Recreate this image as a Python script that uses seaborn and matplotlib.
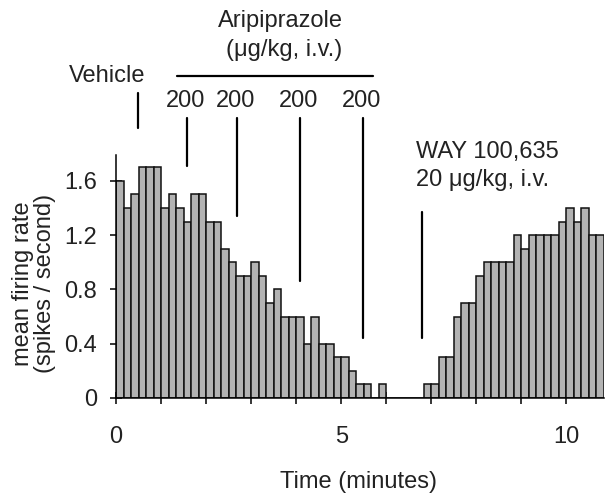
import numpy as np
import pandas as pd
import seaborn as sns
import matplotlib.pyplot as plt

# firing rate in 10 s bins (spikes / second)
bin_minutes = 1 / 6
firing_rate = [
    1.6, 1.4, 1.5, 1.7, 1.7, 1.7, 1.4, 1.5, 1.4, 1.3,
    1.5, 1.5, 1.3, 1.3, 1.1, 1.0, 0.9, 0.9, 1.0, 0.9,
    0.7, 0.8, 0.6, 0.6, 0.6, 0.4, 0.6, 0.4, 0.4, 0.3,
    0.3, 0.2, 0.1, 0.1, 0.0, 0.1, 0.0, 0.0, 0.0, 0.0,
    0.0, 0.1, 0.1, 0.3, 0.3, 0.6, 0.7, 0.7, 0.9, 1.0,
    1.0, 1.0, 1.0, 1.2, 1.1, 1.2, 1.2, 1.2, 1.2, 1.3,
    1.4, 1.3, 1.4, 1.2, 1.2,
]

# injection times (minutes)
vehicle_time = 0.48
aripiprazole_times = [1.57, 2.69, 4.09, 5.48]
aripiprazole_doses = ["200", "200", "200", "200"]
way_time = 6.79

y_ticks = [0, 0.4, 0.8, 1.2, 1.6]
y_ticklabels = ["0", "0.4", "0.8", "1.2", "1.6"]
x_ticks = list(range(11))
x_ticklabels = ["0", "", "", "", "", "5", "", "", "", "", "10"]

n_bins = len(firing_rate)
t_end = n_bins * bin_minutes
df = pd.DataFrame({
    "time": (np.arange(n_bins) + 0.5) * bin_minutes,
    "rate": firing_rate,
})

sns.set_style("white")
plt.rcParams["font.family"] = ["Liberation Sans", "DejaVu Sans"]
fs = 17
txt = "#222222"

fig = plt.figure(figsize=(6.06, 4.97), dpi=100)
ax = fig.add_axes([116 / 606, 99 / 497, 488 / 606, 243 / 497])

sns.histplot(data=df, x="time", weights="rate", bins=n_bins, binrange=(0, t_end),
             color="#b3b3b3", edgecolor="#111111", linewidth=1.1, alpha=1, ax=ax)

ax.set_xlim(0, t_end)
ax.set_ylim(0, 1.79)
for s in ["top", "right"]:
    ax.spines[s].set_visible(False)
for s in ["left", "bottom"]:
    ax.spines[s].set_color("black")
    ax.spines[s].set_linewidth(1.1)

ax.set_xticks(x_ticks)
ax.set_xticklabels(x_ticklabels)
ax.set_yticks(y_ticks)
ax.set_yticklabels(y_ticklabels)
ax.tick_params(axis="both", direction="inout", length=9, width=1.1,
               color="black", labelsize=fs, labelcolor=txt,
               bottom=True, left=True)
ax.tick_params(axis="x", pad=16)
ax.tick_params(axis="y", pad=9)

ax.set_xlabel("Time (minutes)", fontsize=fs, color=txt)
ax.xaxis.set_label_coords(0.496, -0.30)
ax.set_ylabel("mean firing rate\n(spikes / second)", fontsize=fs, color=txt,
              linespacing=1.05)
ax.yaxis.set_label_coords(-0.122, 0.47)

# injection markers
lw = 1.6
ax.plot([vehicle_time, vehicle_time], [1.99, 2.25], color="black", lw=lw, clip_on=False)
ax.text(vehicle_time - 0.68, 2.33, "Vehicle", ha="center", va="baseline",
        fontsize=fs, color=txt)

line_bottoms = [1.71, 1.34, 0.86, 0.44]
for t, b, dose in zip(aripiprazole_times, line_bottoms, aripiprazole_doses):
    ax.plot([t, t], [b, 2.06], color="black", lw=lw, clip_on=False)
    ax.text(t - 0.03, 2.14, dose, ha="center", va="baseline", fontsize=fs, color=txt)

ax.plot([1.36, 5.71], [2.375, 2.375], color="black", lw=lw, clip_on=False)
ax.text(3.66, 2.73, "Aripiprazole", ha="center", va="baseline", fontsize=fs, color=txt)
ax.text(3.73, 2.52, "(\u03bcg/kg, i.v.)", ha="center", va="baseline", fontsize=fs, color=txt)

ax.plot([way_time, way_time], [0.44, 1.37], color="black", lw=lw, clip_on=False)
ax.text(way_time - 0.14, 1.77, "WAY 100,635", ha="left", va="baseline", fontsize=fs, color=txt)
ax.text(way_time - 0.14, 1.563, "20 \u03bcg/kg, i.v.", ha="left", va="baseline", fontsize=fs, color=txt)

fig.savefig("out.png", dpi=100)
